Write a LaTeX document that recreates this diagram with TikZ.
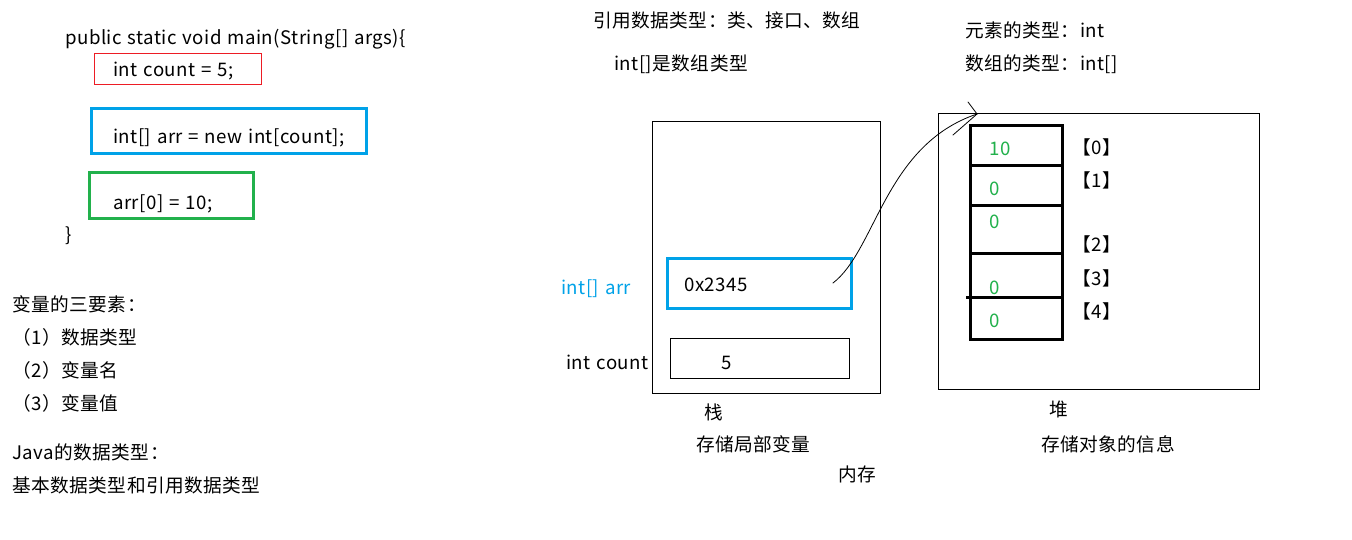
\documentclass[tikz,border=0pt]{standalone}
\usepackage{fontspec}
\setmainfont{Noto Sans CJK SC}[LetterSpace=2.5,WordSpace=1.25]
\definecolor{cred}{RGB}{237,28,36}
\definecolor{cblue}{RGB}{0,162,232}
\definecolor{cgreen}{RGB}{34,177,76}
\tikzset{
  txt/.style={anchor=base west,inner sep=0pt,font=\fontsize{18.67}{22}\selectfont},
  thinbox/.style={draw=black,line width=1pt},
  thickbox/.style={line width=3pt},
  cellval/.style={txt,text=cgreen},
  hand/.style={draw=black,line width=0.8pt,line cap=round,line join=round}
}
\begin{document}
\begin{tikzpicture}[x=1pt,y=-1pt]
\useasboundingbox[fill=white] (0,0) rectangle (1352,539);
% code
\node[txt] (code1) at (65,44) {public static void main(String[] args)\{};
\draw[draw=cred,line width=1pt] (94,53) rectangle (261,84);
\node[txt] (code2) at (113,76) {int count = 5;};
\draw[draw=cblue,thickbox] (91,108) rectangle (366,153);
\node[txt] (code3) at (113,143) {int[] arr = new int[count];};
\draw[draw=cgreen,thickbox] (89,172) rectangle (253,218);
\node[txt] (code4) at (113,209) {arr[0] = 10;};
\node[txt] (code5) at (65,241) {\}};
% left notes
\node[txt] (n1) at (12,311) {变量的三要素：};
\node[txt] (n2) at (12,344) {（1）数据类型};
\node[txt] (n3) at (12,377) {（2）变量名};
\node[txt] (n4) at (12,410) {（3）变量值};
\node[txt] (n5) at (12,459) {Java的数据类型：};
\node[txt] (n6) at (12,492) {基本数据类型和引用数据类型};
% middle top
\node[txt] (m1) at (593,27) {引用数据类型：类、接口、数组};
\node[txt] (m2) at (614,70) {int[]是数组类型};
% right top
\node[txt] (r1) at (965,37) {元素的类型：int};
\node[txt] (r2) at (965,70) {数组的类型：int[]};
% stack
\draw[thinbox] (652,121) rectangle (880,393);
\draw[draw=cblue,thickbox] (667,258) rectangle (851,308);
\node[txt] (addr) at (684,291) {0x2345};
\draw[thinbox] (670,338) rectangle (849,378);
\node[txt] (five) at (721,369) {5};
\node[txt,text=cblue] (arrlbl) at (561,294) {int[] arr};
\node[txt] (cntlbl) at (566,369) {int count};
\node[txt] (zhan) at (704,419) {栈};
\node[txt] (zhan2) at (696,451) {存储局部变量};
\node[txt] (mem) at (838,481) {内存};
% heap
\draw[thinbox] (938,113) rectangle (1259,389);
\draw[line width=3pt] (970,125) rectangle (1062,339);
\draw[line width=3pt] (970,165) -- (1062,165);
\draw[line width=3pt] (970,205) -- (1064,205);
\draw[line width=3pt] (970,253) -- (1062,253);
\draw[line width=3pt] (966,297) -- (1064,297);
\node[cellval] (v0) at (989,155) {10};
\node[cellval] (v1) at (989,195) {0};
\node[cellval] (v2) at (989,228) {0};
\node[cellval] (v3) at (989,294) {0};
\node[cellval] (v4) at (989,327) {0};
\node[txt] (i0) at (1072,154) {【0】};
\node[txt] (i1) at (1072,187) {【1】};
\node[txt] (i2) at (1072,251) {【2】};
\node[txt] (i3) at (1072,285) {【3】};
\node[txt] (i4) at (1072,318) {【4】};
\node[txt] (dui) at (1049,416) {堆};
\node[txt] (dui2) at (1041,451) {存储对象的信息};
% pointer
\coordinate (ptrS) at (833,283);
\coordinate (ptrE) at (977,114);
\coordinate (hd1) at (968,102);
\coordinate (hd2) at (953,135);
\draw[hand] (ptrS) .. controls (876,250) and (885,145) .. (ptrE);
\draw[hand] (ptrE) -- (hd1);
\draw[hand] (ptrE) -- (hd2);
\end{tikzpicture}
\end{document}
